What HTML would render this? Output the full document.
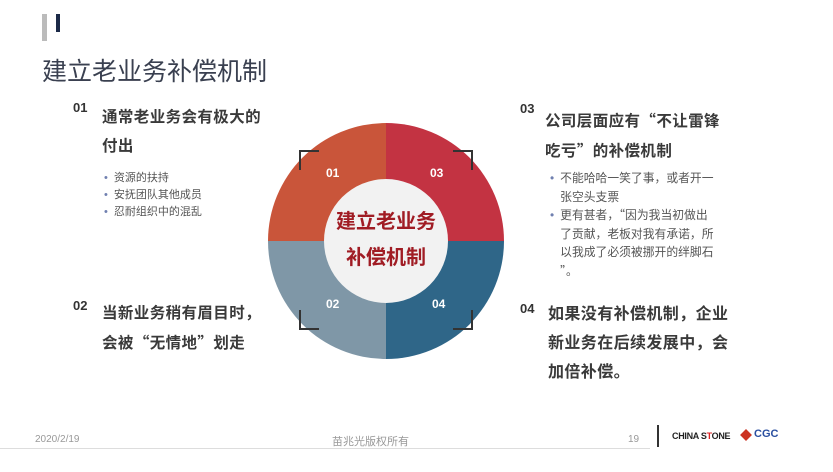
<!DOCTYPE html>
<html><head><meta charset="utf-8"><style>
body{margin:0;width:833px;height:472px;background:#fff;position:relative;overflow:hidden;font-family:"Liberation Sans","Noto Sans CJK SC",sans-serif}
.a{position:absolute;white-space:nowrap}
.q{font-family:"Noto Sans CJK SC",sans-serif}
.num{font-weight:bold;font-size:13px;color:#333}
.h{font-weight:bold;font-size:15.5px;letter-spacing:0.4px;color:#3a3a3a;line-height:29px}
.b{font-size:11px;color:#555;line-height:17px}
.b span{color:#7080b0;margin-right:6px}
.rb{font-size:11.8px;color:#555;line-height:18.5px}
.rb span{color:#7080b0;margin-right:6px}
.br{position:absolute;width:18px;height:18px;border-color:#333;border-style:solid;border-width:0}
</style></head><body>
<div class="a" style="left:42px;top:14px;width:5px;height:27px;background:#bbb"></div>
<div class="a" style="left:56px;top:14px;width:4px;height:18px;background:#1c2a48"></div>
<div class="a" style="left:42px;top:52px;font-size:25px;color:#3a4050">建立老业务补偿机制</div>

<div style="position:absolute;left:268px;top:123px;width:236px;height:236px;border-radius:50%;background:conic-gradient(#c33342 0 90deg,#2f6688 90deg 180deg,#7f97a7 180deg 270deg,#c9553a 270deg 360deg)"></div>
<div style="position:absolute;left:324px;top:179px;width:124px;height:124px;border-radius:50%;background:#f2f2f2"></div>
<div class="a" style="left:324px;top:204px;width:124px;text-align:center;font-weight:bold;font-size:20px;color:#a01c24;line-height:36px">建立老业务<br>补偿机制</div>
<div class="a" style="left:326px;top:166px;color:#fff;font-weight:bold;font-size:12px">01</div>
<div class="a" style="left:430px;top:166px;color:#fff;font-weight:bold;font-size:12px">03</div>
<div class="a" style="left:326px;top:297px;color:#fff;font-weight:bold;font-size:12px">02</div>
<div class="a" style="left:432px;top:297px;color:#fff;font-weight:bold;font-size:12px">04</div>
<div class="br" style="left:299px;top:150px;border-left-width:2px;border-top-width:2px"></div>
<div class="br" style="left:453px;top:150px;border-right-width:2px;border-top-width:2px"></div>
<div class="br" style="left:299px;top:310px;border-left-width:2px;border-bottom-width:2px"></div>
<div class="br" style="left:453px;top:310px;border-right-width:2px;border-bottom-width:2px"></div>

<div class="a num" style="left:73px;top:100px">01</div>
<div class="a h" style="left:102px;top:103px">通常老业务会有极大的<br>付出</div>
<div class="a b" style="left:104px;top:170px"><span>•</span>资源的扶持<br><span>•</span>安抚团队其他成员<br><span>•</span>忍耐组织中的混乱</div>
<div class="a num" style="left:73px;top:298px">02</div>
<div class="a h" style="left:102px;top:299px">当新业务稍有眉目时，<br>会被<span class="q">“</span>无情地<span class="q">”</span>划走</div>

<div class="a num" style="left:520px;top:101px">03</div>
<div class="a h" style="left:545px;top:106px">公司层面应有<span class="q">“</span>不让雷锋<br>吃亏<span class="q">”</span>的补偿机制</div>
<div class="a rb" style="left:550px;top:169px"><span>•</span>不能哈哈一笑了事，或者开一<br><span style="visibility:hidden">•</span>张空头支票<br><span>•</span>更有甚者，<span class="q" style="color:#555;margin:0">“</span>因为我当初做出<br><span style="visibility:hidden">•</span>了贡献，老板对我有承诺，所<br><span style="visibility:hidden">•</span>以我成了必须被挪开的绊脚石<br><span style="visibility:hidden">•</span><span class="q" style="color:#555;margin:0">”</span>。</div>
<div class="a num" style="left:520px;top:301px">04</div>
<div class="a h" style="left:548px;top:300px;font-size:16px">如果没有补偿机制，企业<br>新业务在后续发展中，会<br>加倍补偿。</div>

<div class="a" style="left:0;top:448px;width:650px;height:1px;background:#ddd"></div>
<div class="a" style="left:35px;top:434px;font-size:10px;color:#999">2020/2/19</div>
<div class="a" style="left:332px;top:433px;font-size:11px;color:#999">苗兆光版权所有</div>
<div class="a" style="left:628px;top:434px;font-size:10px;color:#999">19</div>
<div class="a" style="left:657px;top:425px;width:2px;height:22px;background:#333"></div>
<div class="a" style="left:672px;top:431px;font-size:9px;font-weight:bold;color:#222;letter-spacing:-0.3px">CHINA S<span style="color:#d22">T</span>ONE</div>
<div class="a" style="left:740px;top:429px;width:12px;height:12px;background:#c32;transform:rotate(45deg) scale(.7)"></div>
<div class="a" style="left:754px;top:428px;font-size:11px;font-weight:bold;color:#2a4fa0">CGC</div>
</body></html>
